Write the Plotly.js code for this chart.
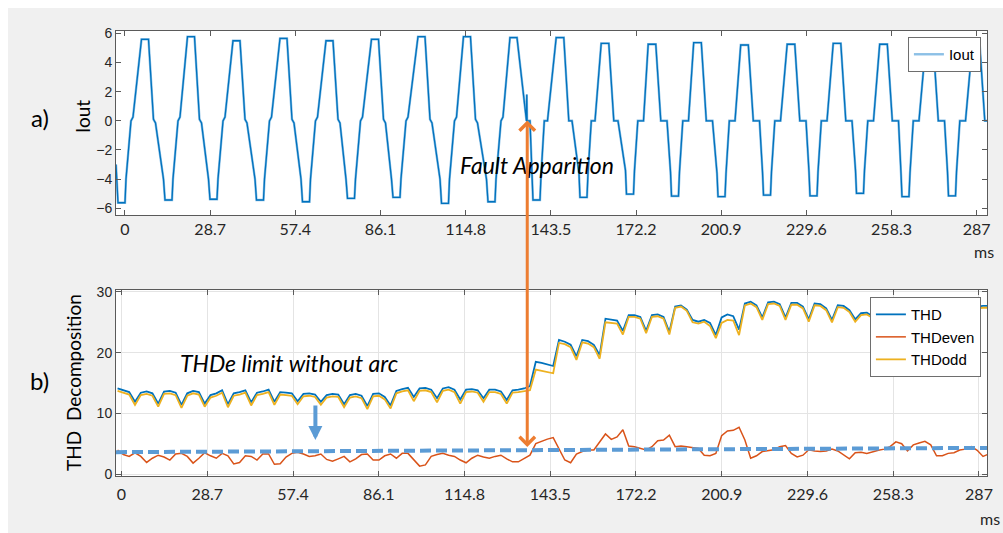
<!DOCTYPE html>
<html><head><meta charset="utf-8">
<script src="https://cdn.plot.ly/plotly-3.0.1.min.js"></script>
<style>
html,body{margin:0;padding:0;background:#ffffff;width:1003px;height:533px;overflow:hidden}
#chart{position:absolute;left:8px;top:8px;width:995px;height:525px}
</style></head><body><div id="chart"></div>
<script>
// ---- tick labels (ms) ----
const msTicks = [0, 28.7, 57.4, 86.1, 114.8, 143.5, 172.2, 200.9, 229.6, 258.3, 287];
const msLabels = ['0', '28.7', '57.4', '86.1', '114.8', '143.5', '172.2', '200.9', '229.6', '258.3', '287'];
const ioutTicks = [-6, -4, -2, 0, 2, 4, 6];
const thdTicks = [0, 10, 20, 30];

// ---- a) Iout waveform vertices (ms, A) ----
const ioutTime = [
  -3.03, -2.36, 0.00, 0.34, 2.02, 2.70, 5.56, 7.92, 9.60, 10.28,
  12.97, 13.48, 15.84, 16.17, 17.86, 18.53, 21.06, 23.42, 25.10, 25.78,
  28.14, 28.64, 31.00, 31.34, 33.03, 33.70, 36.39, 38.75, 40.44, 41.11,
  43.81, 44.31, 46.67, 47.01, 48.69, 49.37, 52.23, 54.59, 56.27, 56.95,
  59.31, 59.81, 62.17, 62.51, 64.19, 64.87, 67.73, 70.09, 71.78, 72.45,
  74.47, 74.98, 77.33, 77.67, 79.36, 80.03, 83.06, 85.42, 87.11, 87.78,
  89.80, 90.31, 92.67, 93.00, 94.69, 95.36, 98.73, 101.09, 102.78, 103.45,
  106.15, 106.66, 109.01, 109.35, 111.03, 111.71, 114.06, 116.42, 118.11, 118.78,
  121.81, 122.32, 124.68, 125.02, 126.70, 127.37, 129.73, 132.09, 135.29, 135.39, 135.49, 136.47,
  137.15, 137.48, 139.84, 140.18, 141.29, 142.37, 145.30, 147.86, 149.55, 150.63,
  152.98, 153.32, 155.68, 156.02, 157.13, 158.38, 160.47, 163.03, 164.71, 166.13,
  168.65, 168.99, 171.35, 171.69, 172.80, 174.72, 176.30, 178.86, 180.55, 182.64,
  183.82, 184.16, 186.51, 186.85, 187.96, 189.88, 191.63, 194.20, 195.88, 197.97,
  199.49, 199.83, 202.19, 202.53, 203.64, 205.56, 207.48, 210.04, 211.72, 213.81,
  214.82, 215.16, 217.52, 217.85, 218.97, 220.89, 223.14, 225.70, 227.39, 229.48,
  230.49, 230.83, 233.19, 233.53, 234.64, 236.56, 238.65, 241.21, 242.89, 244.98,
  246.16, 246.50, 248.85, 249.19, 250.30, 252.22, 254.31, 256.87, 258.56, 260.64,
  261.49, 261.82, 264.18, 264.52, 265.63, 267.55, 269.81, 272.37, 274.06, 276.15,
  277.16, 277.50, 279.86, 280.20, 281.31, 283.23, 285.49, 288.05, 289.73, 291.48
];
const ioutValue = [
  -3.0, -5.62, -5.62, -4.0, 0, 0.25, 5.59, 5.59, 0.1, -0.15,
  -4.0, -5.43, -5.43, -4.0, 0, 0.25, 5.77, 5.77, 0.1, -0.15,
  -4.0, -5.38, -5.38, -4.0, 0, 0.25, 5.49, 5.49, 0.1, -0.15,
  -4.0, -5.43, -5.43, -4.0, 0, 0.25, 5.65, 5.65, 0.1, -0.15,
  -4.0, -5.55, -5.55, -4.0, 0, 0.25, 5.49, 5.49, 0.1, -0.15,
  -4.0, -5.32, -5.32, -4.0, 0, 0.25, 5.59, 5.59, 0.1, -0.15,
  -4.0, -5.25, -5.25, -4.0, 0, 0.25, 5.77, 5.77, 0.1, -0.15,
  -4.0, -5.66, -5.66, -4.0, 0, 0.25, 5.77, 5.77, 0.1, -0.15,
  -4.0, -5.55, -5.55, -4.0, 0, 0.25, 5.71, 5.71, 0, 1.8, 0, 0,
  -3.8, -5.43, -5.43, -3.8, 0, 0, 5.71, 5.71, 0, 0,
  -3.6, -5.25, -5.25, -3.6, 0, 0, 5.31, 5.31, 0, 0,
  -3.4, -5.03, -5.03, -3.4, 0, 0, 5.25, 5.25, 0, 0,
  -3.5, -5.16, -5.16, -3.5, 0, 0, 5.36, 5.36, 0, 0,
  -3.6, -5.20, -5.20, -3.6, 0, 0, 5.20, 5.20, 0, 0,
  -3.5, -5.09, -5.09, -3.5, 0, 0, 5.25, 5.25, 0, 0,
  -3.5, -5.15, -5.15, -3.5, 0, 0, 5.31, 5.31, 0, 0,
  -3.4, -4.97, -4.97, -3.4, 0, 0, 5.25, 5.25, 0, 0,
  -3.6, -5.20, -5.20, -3.6, 0, 0, 5.20, 5.20, 0, 0,
  -3.5, -5.15, -5.15, -3.5, 0, 0, 5.15, 5.15, 0, 0
];

// ---- b) THD decomposition, sampled every thdStep ms from thdStart ----
const thdStart = -1.313;
const thdStep = 1.944;
const thd = [
  14.1, 13.8, 13.5, 11.9, 13.4, 13.6, 13.3, 11.6, 13.6, 13.7, 13.4, 11.4,
  13.3, 13.7, 13.5, 11.6, 13.0, 13.3, 13.8, 11.5, 13.3, 13.5, 13.8, 11.8,
  13.4, 13.6, 13.9, 11.9, 13.5, 13.4, 13.3, 12.0, 13.2, 13.3, 13.1, 11.9,
  13.0, 13.2, 13.1, 11.5, 13.0, 13.2, 12.9, 11.2, 13.2, 13.3, 12.7, 11.3,
  13.7, 14.0, 14.2, 12.7, 14.1, 14.2, 13.9, 12.5, 14.1, 14.3, 13.9, 12.3,
  13.9, 14.0, 13.8, 12.5, 13.9, 13.9, 13.6, 12.2, 13.8, 13.9, 14.1, 14.5,
  18.5, 18.3, 18.1, 17.8, 22.1, 21.8, 21.3, 19.4, 22.1, 21.9, 21.3, 19.6,
  25.6, 25.5, 25.3, 23.6, 26.2, 26.2, 25.9, 23.6, 26.2, 26.3, 25.9, 23.4,
  27.6, 27.8, 27.1, 25.4, 25.1, 25.4, 24.9, 22.9, 25.8, 26.3, 26.0, 23.8,
  28.1, 28.4, 27.8, 25.8, 28.3, 28.4, 28.0, 25.8, 28.2, 28.2, 27.6, 25.5,
  28.1, 28.0, 27.3, 25.4, 27.8, 27.7, 27.0, 25.5, 26.5, 26.6, 26.0, 24.0,
  26.6, 26.8, 27.6, 25.6, 27.8, 27.9, 27.4, 25.6, 27.8, 28.0, 27.5, 25.8,
  27.9, 28.0, 27.6, 25.7, 27.6, 27.7, 27.7
];
const thdEven = [
  3.95, 3.2, 2.9, 3.5, 2.9, 1.9, 2.6, 3.1, 2.8, 2.3, 3.3, 3.4,
  2.9, 1.8, 2.6, 3.5, 3.0, 2.6, 3.4, 3.0, 1.65, 1.9, 3.0, 2.9,
  2.3, 3.3, 3.3, 1.6, 1.7, 2.8, 3.4, 3.6, 3.3, 2.9, 3.0, 3.3,
  2.4, 2.1, 2.5, 2.9, 2.0, 2.5, 3.2, 3.3, 2.3, 2.3, 3.0, 3.3,
  2.6, 3.4, 3.4, 2.4, 1.3, 1.5, 2.9, 3.2, 3.4, 3.1, 2.9, 2.3,
  1.85, 2.6, 3.1, 2.8, 2.6, 2.9, 3.1, 2.5, 2.0, 2.0, 2.6, 3.1,
  5.0, 5.4, 5.75, 6.0, 4.2, 2.3, 1.85, 3.3, 3.7, 3.95, 3.95, 5.3,
  6.6, 5.7, 6.1, 7.3, 4.6, 4.5, 4.2, 3.95, 4.5, 5.5, 5.6, 6.4,
  4.5, 4.6, 4.5, 4.4, 4.2, 3.1, 3.0, 3.4, 6.3, 7.1, 7.2, 7.7,
  5.6, 2.6, 3.0, 3.7, 3.8, 4.0, 4.5, 4.7, 3.4, 2.8, 3.1, 4.0,
  3.8, 3.7, 3.8, 4.1, 3.8, 3.1, 2.5, 3.5, 3.6, 3.4, 3.7, 3.9,
  4.1, 4.5, 5.3, 5.0, 3.8, 4.8, 5.1, 5.4, 4.8, 3.0, 3.0, 3.4,
  3.5, 3.95, 4.1, 4.5, 3.9, 2.9, 3.3
];
const thdOdd = [
  13.7, 13.4, 13.1, 11.4, 13.0, 13.2, 12.9, 11.1, 13.2, 13.3, 13.0, 10.9,
  12.9, 13.3, 13.1, 11.1, 12.6, 12.9, 13.4, 11.0, 12.9, 13.1, 13.4, 11.3,
  13.0, 13.2, 13.5, 11.4, 13.1, 13.0, 12.9, 11.5, 12.8, 12.9, 12.7, 11.4,
  12.6, 12.8, 12.7, 11.0, 12.6, 12.8, 12.5, 10.7, 12.8, 12.9, 12.3, 10.8,
  13.3, 13.6, 13.8, 12.0, 13.7, 13.8, 13.5, 11.8, 13.7, 13.9, 13.5, 11.6,
  13.5, 13.6, 13.4, 11.9, 13.5, 13.5, 13.2, 11.6, 13.4, 13.5, 13.7, 13.8,
  17.2, 17.0, 16.8, 16.6, 21.6, 21.4, 20.9, 18.8, 21.7, 21.5, 20.9, 19.0,
  25.0, 24.9, 24.8, 23.0, 25.9, 25.9, 25.6, 23.2, 25.9, 26.0, 25.6, 23.0,
  27.4, 27.6, 26.9, 25.0, 24.8, 25.1, 24.4, 22.4, 24.9, 25.4, 25.3, 22.9,
  27.8, 28.1, 27.5, 25.4, 28.0, 28.1, 27.7, 25.4, 27.9, 27.9, 27.3, 25.1,
  27.8, 27.7, 27.0, 25.0, 27.5, 27.4, 26.7, 25.1, 26.2, 26.3, 25.7, 23.5,
  26.3, 26.5, 27.3, 25.2, 27.5, 27.6, 27.1, 25.2, 27.5, 27.7, 27.2, 25.4,
  27.6, 27.7, 27.3, 25.3, 27.3, 27.4, 27.4
];

// ---- annotation line: THDe limit without arc ----
const limitTime = [-1.84, 289.68];
const limitValue = [3.6, 4.3];
const faultTime = 135.8;

const lineGray = '#5a5a5a';
const tickFontX = {family: 'Lato, "Open Sans", sans-serif', size: 16, color: '#262626'};
const tickFontY = {family: '"Liberation Sans", Arial, sans-serif', size: 14, color: '#262626'};
const legendFont = {family: '"Liberation Sans", Arial, sans-serif', size: 15, color: '#000000'};

const traces = [
  {x: ioutTime, y: ioutValue, xaxis: 'x', yaxis: 'y', type: 'scatter', mode: 'lines',
   name: 'Iout', line: {color: '#8cc0e6', width: 2.4}, legend: 'legend', hoverinfo: 'skip'},
  {x: ioutTime, y: ioutValue, xaxis: 'x', yaxis: 'y', type: 'scatter', mode: 'lines',
   name: 'Iout', showlegend: false, line: {color: '#0072bd', width: 1.3}, hoverinfo: 'skip'},
  {y: thd, x0: thdStart, dx: thdStep, xaxis: 'x2', yaxis: 'y2', type: 'scatter', mode: 'lines',
   name: 'THD', line: {color: '#0072bd', width: 1.8}, legend: 'legend2'},
  {y: thdEven, x0: thdStart, dx: thdStep, xaxis: 'x2', yaxis: 'y2', type: 'scatter', mode: 'lines',
   name: 'THDeven', line: {color: '#d95319', width: 1.5}, legend: 'legend2'},
  {y: thdOdd, x0: thdStart, dx: thdStep, xaxis: 'x2', yaxis: 'y2', type: 'scatter', mode: 'lines',
   name: 'THDodd', line: {color: '#edb120', width: 1.8}, legend: 'legend2'},
  {x: limitTime, y: limitValue, xaxis: 'x2', yaxis: 'y2', type: 'scatter', mode: 'lines',
   showlegend: false, line: {color: '#5b9bd5', width: 4, dash: '11px,5px'}, hoverinfo: 'skip'}
];

const axisCommon = {
  ticks: 'inside', ticklen: 5, tickcolor: lineGray, tickwidth: 1,
  showline: true, linecolor: lineGray, linewidth: 1, mirror: 'ticks',
  zeroline: false, fixedrange: true
};

const layout = {
  width: 995, height: 525,
  margin: {l: 108, r: 16, t: 23, b: 57},
  paper_bgcolor: '#f0f0f0', plot_bgcolor: '#ffffff',
  showlegend: true,
  xaxis: Object.assign({}, axisCommon, {domain: [0, 1], anchor: 'y', range: [-3.03, 290.47],
    tickvals: msTicks, ticktext: msLabels, tickfont: tickFontX, showgrid: false}),
  yaxis: Object.assign({}, axisCommon, {domain: [0.5865, 1], anchor: 'x', range: [-6.46, 6.16],
    tickvals: ioutTicks, tickfont: tickFontY, showgrid: false}),
  xaxis2: Object.assign({}, axisCommon, {domain: [0, 1], anchor: 'y2', range: [-1.84, 289.68],
    tickvals: msTicks, ticktext: msLabels, tickfont: tickFontX, showgrid: true, gridcolor: '#e4e4e4', gridwidth: 1,
    ticklabelstandoff: 4}),
  yaxis2: Object.assign({}, axisCommon, {domain: [0, 0.418], anchor: 'x2', range: [-0.33, 30.33],
    tickvals: thdTicks, tickfont: tickFontY, showgrid: true, gridcolor: '#e4e4e4', gridwidth: 1}),
  legend: {x: 0.993, xanchor: 'right', y: 0.9865, yanchor: 'top', bgcolor: '#ffffff',
    bordercolor: '#6e6e6e', borderwidth: 1, font: legendFont, itemwidth: 30, tracegroupgap: 0},
  legend2: {x: 0.993, xanchor: 'right', y: 0.402, yanchor: 'top', bgcolor: '#ffffff',
    bordercolor: '#6e6e6e', borderwidth: 1, font: legendFont, itemwidth: 30, tracegroupgap: 0},
  annotations: [
    {text: 'a)', xref: 'paper', yref: 'paper', x: -0.0873, y: 0.8067, showarrow: false,
     xanchor: 'center', yanchor: 'middle', font: {family: 'Lato, sans-serif', size: 24, color: '#000'}},
    {text: 'b)', xref: 'paper', yref: 'paper', x: -0.0873, y: 0.2135, showarrow: false,
     xanchor: 'center', yanchor: 'middle', font: {family: 'Lato, sans-serif', size: 24, color: '#000'}},
    {text: 'Iout', xref: 'paper', yref: 'paper', x: -0.039, y: 0.8067, showarrow: false, textangle: -90,
     xanchor: 'center', yanchor: 'middle', font: {family: 'Lato, sans-serif', size: 19, color: '#000'}},
    {text: 'THD\u00a0 Decomposition', xref: 'paper', yref: 'paper', x: -0.0482, y: 0.209, showarrow: false, textangle: -90,
     xanchor: 'center', yanchor: 'middle', font: {family: 'Lato, sans-serif', size: 19, color: '#000'}},
    {text: 'ms', xref: 'paper', yref: 'paper', x: 0.9966, y: 0.5034, showarrow: false,
     xanchor: 'center', yanchor: 'middle', font: {family: 'Lato, sans-serif', size: 16, color: '#262626'}},
    {text: 'ms', xref: 'paper', yref: 'paper', x: 1.0034, y: -0.0944, showarrow: false,
     xanchor: 'center', yanchor: 'middle', font: {family: 'Lato, sans-serif', size: 16, color: '#262626'}},
    {text: '<i>Fault Apparition</i>', xref: 'x', yref: 'y', x: 138.8, y: -3.03, showarrow: false,
     xanchor: 'center', yanchor: 'middle', font: {family: 'Lato, sans-serif', size: 23, color: '#000'}},
    {text: '<i>THDe limit without arc</i>', xref: 'x2', yref: 'y2', x: 55.9, y: 18.3, showarrow: false,
     xanchor: 'center', yanchor: 'middle', font: {family: 'Lato, sans-serif', size: 23, color: '#000'}},
    {text: '', xref: 'x2', yref: 'y2', x: faultTime, y: 4.45, ax: 0, ay: -328, axref: 'pixel', ayref: 'pixel',
     showarrow: true, arrowside: 'end+start', arrowhead: 4, startarrowhead: 4, arrowsize: 1, startarrowsize: 1,
     arrowwidth: 3, arrowcolor: '#ed7d31', standoff: 0, startstandoff: 0},
    {text: '', xref: 'x2', yref: 'y2', x: 64.9, y: 5.6, ax: 0, ay: -36, axref: 'pixel', ayref: 'pixel',
     showarrow: true, arrowhead: 2, arrowsize: 0.7, arrowwidth: 4, arrowcolor: '#5b9bd5', standoff: 0}
  ]
};

Plotly.newPlot('chart', traces, layout, {displayModeBar: false, staticPlot: true});
</script></body></html>
